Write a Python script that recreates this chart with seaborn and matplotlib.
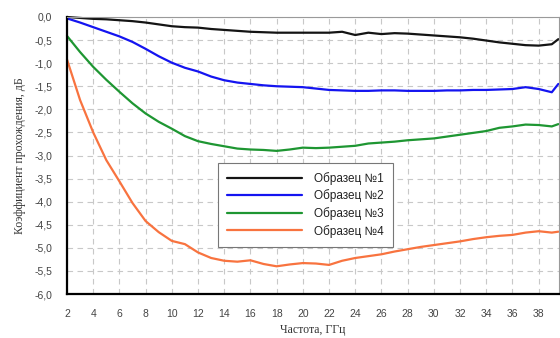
import matplotlib
matplotlib.use("Agg")
import matplotlib.pyplot as plt
import seaborn as sns
import pandas as pd
from matplotlib.ticker import FixedLocator, FuncFormatter

# ---- data ----
freq = [2, 3, 4, 5, 6, 7, 8, 9, 10, 11, 12, 13, 14, 15, 16, 17, 18, 19, 20,
        21, 22, 23, 24, 25, 26, 27, 28, 29, 30, 31, 32, 33, 34, 35, 36, 37,
        38, 39, 39.5]

sample1 = [0.00, -0.02, -0.04, -0.05, -0.07, -0.09, -0.12, -0.16, -0.20, -0.22,
           -0.23, -0.26, -0.28, -0.30, -0.32, -0.33, -0.34, -0.34, -0.34, -0.34,
           -0.34, -0.32, -0.39, -0.34, -0.37, -0.35, -0.36, -0.38, -0.40, -0.42,
           -0.44, -0.47, -0.51, -0.55, -0.58, -0.61, -0.62, -0.59, -0.48]

sample2 = [-0.03, -0.12, -0.22, -0.32, -0.42, -0.54, -0.69, -0.85, -0.99, -1.10,
           -1.18, -1.29, -1.37, -1.42, -1.45, -1.48, -1.50, -1.51, -1.52, -1.55,
           -1.58, -1.59, -1.60, -1.60, -1.59, -1.59, -1.60, -1.60, -1.60, -1.59,
           -1.59, -1.58, -1.58, -1.57, -1.56, -1.52, -1.56, -1.63, -1.45]

sample3 = [-0.41, -0.76, -1.08, -1.36, -1.62, -1.87, -2.09, -2.27, -2.42, -2.58,
           -2.69, -2.75, -2.80, -2.85, -2.87, -2.88, -2.90, -2.87, -2.83, -2.84,
           -2.83, -2.81, -2.79, -2.74, -2.72, -2.70, -2.67, -2.65, -2.63, -2.59,
           -2.55, -2.51, -2.47, -2.40, -2.37, -2.33, -2.34, -2.37, -2.32]

sample4 = [-0.92, -1.80, -2.50, -3.10, -3.56, -4.03, -4.42, -4.66, -4.85, -4.92,
           -5.10, -5.22, -5.28, -5.30, -5.27, -5.35, -5.40, -5.36, -5.33, -5.34,
           -5.37, -5.28, -5.22, -5.18, -5.14, -5.08, -5.03, -4.98, -4.94, -4.90,
           -4.86, -4.81, -4.77, -4.74, -4.72, -4.67, -4.64, -4.67, -4.65]

labels = ["Образец №1", "Образец №2", "Образец №3", "Образец №4"]
colors = ["#141414", "#1414f0", "#1e9632", "#f8733f"]

x_ticks = list(range(2, 39, 2))
y_ticks = [0.0, -0.5, -1.0, -1.5, -2.0, -2.5, -3.0, -3.5, -4.0, -4.5, -5.0, -5.5, -6.0]

# ---- long form ----
frames = []
for lab, ys in zip(labels, [sample1, sample2, sample3, sample4]):
    frames.append(pd.DataFrame({"freq": freq, "val": ys, "sample": lab}))
df = pd.concat(frames, ignore_index=True)

sns.set_style("white")
plt.rcParams["font.family"] = ["Liberation Sans", "DejaVu Sans"]

fig = plt.figure(figsize=(5.6, 3.38), dpi=100)
ax = fig.add_axes([67 / 560, 1 - 294 / 338, (559 - 67) / 560, (294 - 17) / 338])

sns.lineplot(data=df, x="freq", y="val", hue="sample", hue_order=labels,
             palette=dict(zip(labels, colors)), linewidth=1.6, ax=ax,
             estimator=None, sort=False)

ax.set_xlim(2, 39.55)
ax.set_ylim(-6.0, 0.0)

ax.xaxis.set_major_locator(FixedLocator(x_ticks))
ax.yaxis.set_major_locator(FixedLocator(y_ticks))
ax.yaxis.set_major_formatter(FuncFormatter(lambda v, p: f"{v:.1f}".replace(".", ",")))
ax.xaxis.set_major_formatter(FuncFormatter(lambda v, p: f"{int(round(v))}"))

ax.tick_params(axis="both", direction="out", length=7.5, width=1.6, color="black",
               labelsize=7.5, labelcolor="#444444", pad=3)

ax.grid(True, color="#c8c8c8", linestyle=(0, (5, 4)), linewidth=0.8)

for side in ["left", "bottom"]:
    ax.spines[side].set_color("black")
    ax.spines[side].set_linewidth(1.6)
for side in ["top", "right"]:
    ax.spines[side].set_color("#9a9a9a")
    ax.spines[side].set_linewidth(0.8)
    ax.spines[side].set_visible(True)

for line in ax.get_lines():
    line.set_clip_on(False)

ax.set_xlabel("Частота, ГГц", family=["Liberation Serif", "DejaVu Serif"],
              fontsize=8.5, color="#333333", labelpad=4)
ax.set_ylabel("Коэффициент прохождения, дБ", family=["Liberation Serif", "DejaVu Serif"],
              fontsize=8.5, color="#333333", labelpad=6)

leg = ax.legend(loc="lower left", bbox_to_anchor=((218 - 67) / 492, (294 - 247) / 277),
                fontsize=8.5, handlelength=6.3, handletextpad=1.0, labelspacing=0.39,
                borderpad=0.8, fancybox=False, framealpha=1, edgecolor="#777777",
                borderaxespad=0)
leg.get_frame().set_linewidth(0.8)
for t in leg.get_texts():
    t.set_color("#222222")
for h in leg.get_lines():
    h.set_linewidth(1.6)

fig.savefig("out.png", dpi=100)
